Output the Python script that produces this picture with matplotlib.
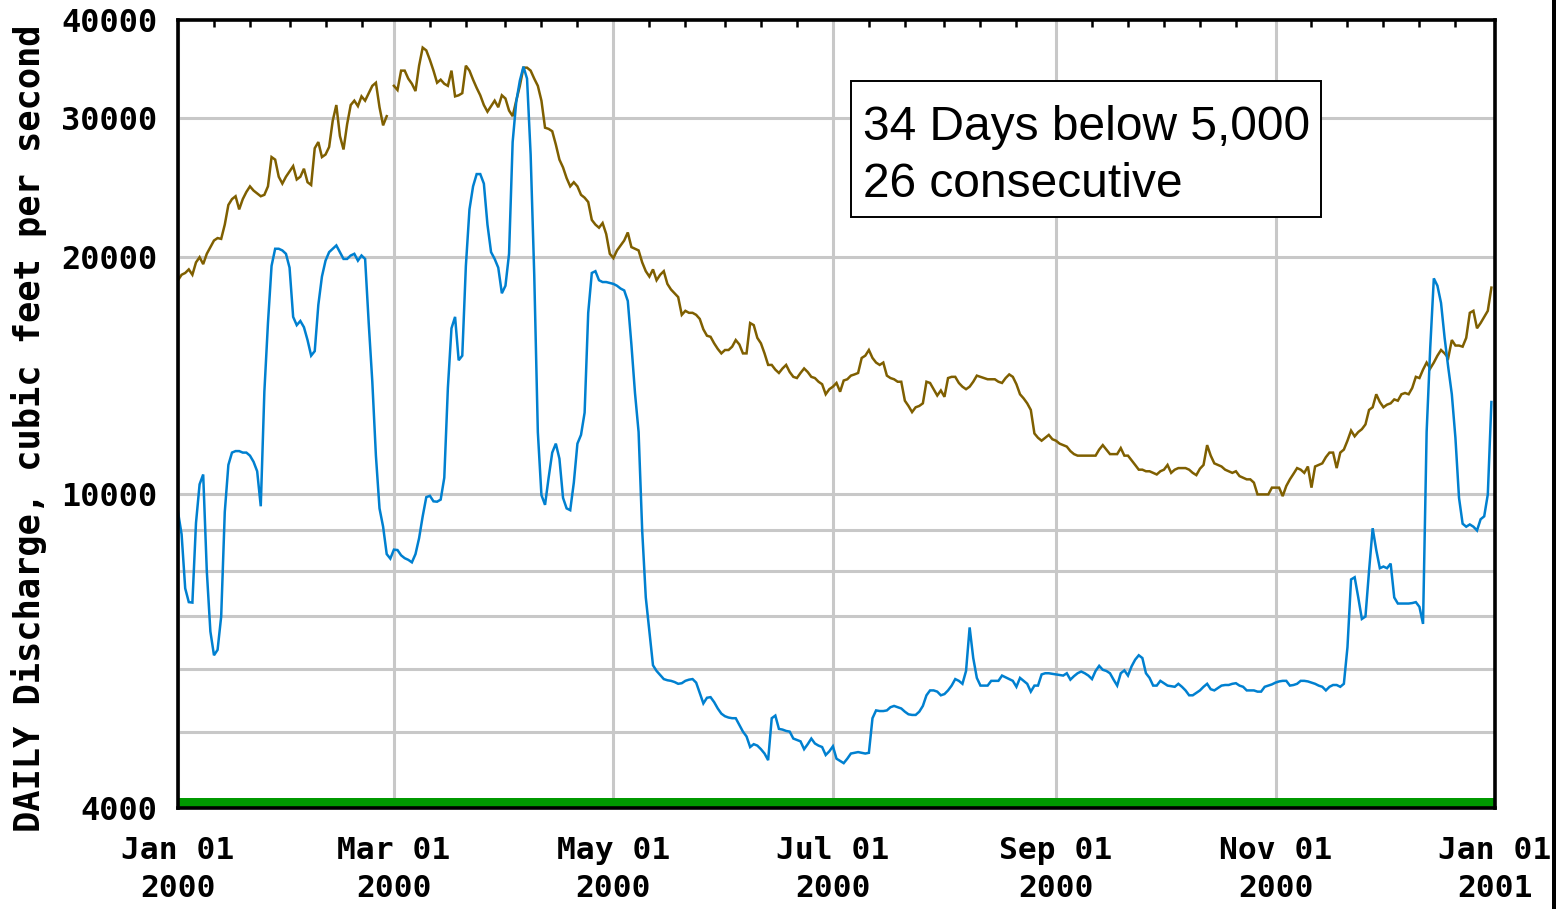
import numpy as np
import pandas as pd
import matplotlib
matplotlib.use("Agg")
import matplotlib.pyplot as plt
import matplotlib.dates as mdates
from matplotlib.ticker import FixedLocator, FixedFormatter, NullFormatter, NullLocator
from matplotlib.patches import Rectangle

# ---------------- data ----------------
dates = pd.date_range("2000-01-01", "2000-12-31", freq="D")

# median daily statistic (brown); Feb 29 missing
median_cfs = [
    18700, 19000, 19100, 19300, 19000, 19700, 20000, 19600, 20200, 20600,
    21000, 21150, 21100, 22000, 23300, 23700, 23900, 23000, 23700, 24200,
    24600, 24300, 24100, 23900, 24000, 24600, 26800, 26600, 25300, 24800,
    25300, 25700, 26100, 25100, 25300, 25900, 24900, 24700, 27500, 28000,
    26800, 27000, 27600, 29800, 31200, 28500, 27400, 29500, 31200, 31600,
    31100, 32000, 31600, 32300, 33000, 33300, 31000, 29400, 30200, None,
    33000, 32600, 34500, 34500, 33700, 33200, 32500, 35000, 36900, 36600,
    35600, 34500, 33300, 33600, 33200, 33000, 34500, 32000, 32100, 32300,
    35000, 34500, 33600, 32800, 32100, 31200, 30600, 31100, 31600, 31000,
    32100, 31800, 30700, 30200, 31600, 33000, 34800, 34800, 34500, 33700,
    33000, 31600, 29200, 29100, 28900, 27800, 26600, 26000, 25200, 24600,
    24900, 24600, 24000, 23800, 23500, 22300, 22000, 21800, 22100, 21400,
    20200, 19950, 20400, 20700, 21000, 21500, 20600, 20500, 20400, 19700,
    19200, 18900, 19300, 18700, 19000, 19200, 18500, 18200, 18000, 17800,
    16900, 17100, 17000, 17000, 16900, 16700, 16200, 15900, 15850, 15550,
    15300, 15100, 15250, 15250, 15400, 15700, 15500, 15100, 15100, 16500,
    16400, 15800, 15550, 15100, 14600, 14600, 14400, 14260, 14450, 14600,
    14300, 14100, 14050, 14260, 14450, 14300, 14100, 14050, 13900, 13800,
    13400, 13600, 13700, 13850, 13500, 13950, 14000, 14150, 14200, 14260,
    14900, 15000, 15250, 14900, 14700, 14600, 14700, 14150, 14050, 14000,
    13900, 13900, 13150, 12950, 12720, 12900, 12950, 13050, 13900, 13850,
    13600, 13350, 13550, 13300, 14050, 14100, 14100, 13850, 13700, 13600,
    13700, 13900, 14150, 14100, 14050, 14000, 14000, 14000, 13900, 13850,
    14050, 14200, 14100, 13800, 13400, 13240, 13050, 12800, 11950, 11800,
    11700, 11800, 11900, 11750, 11700, 11600, 11550, 11500, 11350, 11250,
    11200, 11200, 11200, 11200, 11200, 11200, 11400, 11550, 11400, 11250,
    11250, 11250, 11450, 11200, 11200, 11050, 10900, 10750, 10750, 10700,
    10700, 10650, 10600, 10700, 10750, 10900, 10650, 10750, 10800, 10800,
    10800, 10750, 10650, 10580, 10780, 10900, 11550, 11200, 10950, 10900,
    10850, 10750, 10700, 10650, 10700, 10550, 10500, 10450, 10450, 10350,
    10000, 10000, 10000, 10000, 10200, 10200, 10200, 9950, 10250, 10450,
    10620, 10800, 10750, 10650, 10850, 10200, 10850, 10900, 10950, 11150,
    11300, 11300, 10800, 11300, 11400, 11700, 12050, 11850, 12000, 12100,
    12270, 12800, 12900, 13400, 13100, 12900, 13000, 13050, 13200, 13150,
    13400, 13450, 13400, 13650, 14100, 14050, 14400, 14700, 14450, 14700,
    15000, 15250, 15100, 14900, 15700, 15450, 15450, 15400, 15800, 17000,
    17100, 16250, 16500, 16800, 17100, 18300,
]

# daily discharge 2000 (blue)
flow_cfs = [
    9500, 8900, 7600, 7300, 7290, 9200, 10300, 10600, 8000, 6700,
    6250, 6350, 7000, 9500, 10900, 11300, 11350, 11350, 11300, 11300,
    11200, 11000, 10700, 9660, 13500, 16500, 19500, 20500, 20500, 20400,
    20200, 19400, 16800, 16400, 16600, 16300, 15700, 15000, 15200, 17400,
    18900, 19800, 20300, 20500, 20700, 20300, 19900, 19900, 20100, 20200,
    19800, 20100, 19900, 16500, 13900, 11200, 9600, 9100, 8400, 8290,
    8510, 8500, 8370, 8300, 8260, 8200, 8400, 8800, 9380, 9920,
    9960, 9800, 9790, 9850, 10500, 13650, 16250, 16800, 14800, 15000,
    19500, 23000, 24600, 25500, 25500, 24800, 22000, 20300, 19900, 19400,
    18000, 18400, 20200, 28000, 31500, 33500, 34900, 33700, 27000, 19000,
    12000, 9980, 9700, 10500, 11300, 11600, 11100, 9900, 9600, 9550,
    10350, 11600, 11900, 12700, 17000, 19100, 19200, 18700, 18600, 18600,
    18550, 18500, 18400, 18250, 18150, 17600, 15500, 13450, 12000, 9000,
    7400, 6700, 6070, 5970, 5900, 5830, 5810, 5800, 5780, 5750,
    5760, 5800, 5820, 5830, 5770, 5600, 5430, 5520, 5530, 5450,
    5350, 5270, 5230, 5210, 5200, 5200, 5100, 5000, 4930, 4780,
    4820, 4800, 4750, 4690, 4600, 5200, 5240, 5040, 5030, 5010,
    5000, 4900, 4880, 4860, 4750, 4820, 4900, 4830, 4800, 4780,
    4670, 4720, 4790, 4620, 4590, 4560, 4620, 4690, 4700, 4710,
    4700, 4690, 4700, 5200, 5320, 5310, 5310, 5320, 5370, 5390,
    5370, 5350, 5300, 5260, 5250, 5250, 5300, 5390, 5560, 5640,
    5640, 5620, 5560, 5580, 5640, 5720, 5830, 5800, 5750, 5970,
    6780, 6200, 5850, 5720, 5720, 5720, 5800, 5800, 5800, 5890,
    5860, 5830, 5800, 5700, 5850, 5800, 5750, 5620, 5720, 5720,
    5910, 5930, 5930, 5920, 5910, 5900, 5890, 5930, 5820, 5880,
    5930, 5960, 5930, 5890, 5830, 5970, 6060, 5990, 5970, 5930,
    5820, 5720, 5930, 5980, 5890, 6050, 6170, 6250, 6200, 5930,
    5850, 5720, 5720, 5800, 5760, 5720, 5710, 5700, 5750, 5700,
    5640, 5560, 5560, 5600, 5640, 5700, 5750, 5660, 5640, 5680,
    5720, 5730, 5730, 5750, 5760, 5720, 5700, 5640, 5640, 5640,
    5620, 5620, 5700, 5720, 5740, 5770, 5790, 5800, 5800, 5720,
    5730, 5750, 5800, 5800, 5790, 5770, 5750, 5720, 5700, 5640,
    5700, 5730, 5730, 5700, 5750, 6400, 7800, 7850, 7400, 6950,
    7000, 8000, 9060, 8500, 8060, 8100, 8060, 8170, 7400, 7270,
    7270, 7270, 7270, 7280, 7300, 7200, 6850, 12000, 15350, 18800,
    18400, 17500, 15800, 14500, 13400, 11800, 9900, 9180, 9100, 9160,
    9100, 9000, 9300, 9380, 10000, 13100,
]

y_tick_values = [4000, 10000, 20000, 30000, 40000]
y_grid_values = [5000, 6000, 7000, 8000, 9000, 10000, 20000, 30000]
x_tick_dates = ["2000-01-01", "2000-03-01", "2000-05-01", "2000-07-01",
                "2000-09-01", "2000-11-01", "2001-01-01"]
x_tick_labels = ["Jan 01\n2000", "Mar 01\n2000", "May 01\n2000", "Jul 01\n2000",
                 "Sep 01\n2000", "Nov 01\n2000", "Jan 01\n2001"]
y_label = "DAILY Discharge, cubic feet per second"
note_lines = ["34 Days below 5,000", "26 consecutive"]

# ---------------- style ----------------
BROWN = "#7f5f00"
BLUE = "#0080d0"
GREEN = "#009900"
GRID = "#c8c8c8"
W, H = 1556, 909

plt.rcParams["font.family"] = ["DejaVu Sans Mono"]
plt.rcParams["font.weight"] = "bold"

fig = plt.figure(figsize=(W / 100, H / 100), dpi=100)
ax = fig.add_axes([178 / W, (H - 808) / H, (1495 - 178) / W, (808 - 20) / H])

median = np.array([np.nan if v is None else v for v in median_cfs], dtype=float)
flow = np.array(flow_cfs, dtype=float)

ax.plot(dates, median, color=BROWN, lw=1.8, zorder=4, solid_joinstyle="miter")
ax.plot(dates, flow, color=BLUE, lw=1.8, zorder=5, solid_joinstyle="miter")

ax.set_yscale("log")
ax.set_ylim(4000, 40000)
ax.set_xlim(pd.Timestamp("2000-01-01"), pd.Timestamp("2001-01-01"))

for v in y_grid_values:
    ax.axhline(v, color=GRID, lw=2.2, zorder=1)
xt = [pd.Timestamp(d) for d in x_tick_dates]
for d in xt:
    ax.axvline(d, color=GRID, lw=2.2, zorder=1)

ax.yaxis.set_major_locator(FixedLocator(y_tick_values))
ax.yaxis.set_major_formatter(FixedFormatter([str(v) for v in y_tick_values]))
ax.yaxis.set_minor_locator(NullLocator())
ax.yaxis.set_minor_formatter(NullFormatter())
ax.tick_params(axis="y", which="major", length=0, pad=15, labelsize=23)

ax.set_xticks(xt)
ax.set_xticklabels(x_tick_labels)
ax.tick_params(axis="x", which="major", length=0, pad=20, labelsize=22.5)
ax.xaxis.set_minor_locator(mdates.DayLocator(bymonthday=[1, 11, 21]))
ax.xaxis.set_minor_formatter(NullFormatter())
ax.tick_params(axis="x", which="minor", top=True, bottom=False, direction="in",
               length=5, width=1.8, color="black")
for lab in ax.get_xticklabels():
    lab.set_linespacing(1.42)

# green band along the bottom
ax.add_patch(Rectangle((0, 0), 1, 10 / 788, transform=ax.transAxes,
                       facecolor=GREEN, edgecolor="none", zorder=6, clip_on=False))

for s in ax.spines.values():
    s.set_linewidth(2.6)
    s.set_color("black")
    s.set_zorder(7)

fig.text(29 / W, 1 - 428 / H, y_label, rotation=90, ha="center", va="center",
         fontsize=25.5, fontweight="bold", family="DejaVu Sans Mono")

# annotation box
fig.add_artist(Rectangle((851 / W, 1 - 217 / H), 470 / W, 136 / H,
                         transform=fig.transFigure, facecolor="white",
                         edgecolor="black", lw=1.4, zorder=10))
fig.text(863 / W, 1 - 140 / H, note_lines[0], ha="left", va="baseline",
         fontsize=34.5, family="Liberation Sans", fontweight="normal", zorder=11)
fig.text(863 / W, 1 - 197 / H, note_lines[1], ha="left", va="baseline",
         fontsize=34.5, family="Liberation Sans", fontweight="normal", zorder=11)

# right border line of image
fig.add_artist(Rectangle((1552 / W, 0), 4 / W, 1, transform=fig.transFigure,
                         facecolor="black", edgecolor="none"))

fig.savefig("out.png", dpi=100)
